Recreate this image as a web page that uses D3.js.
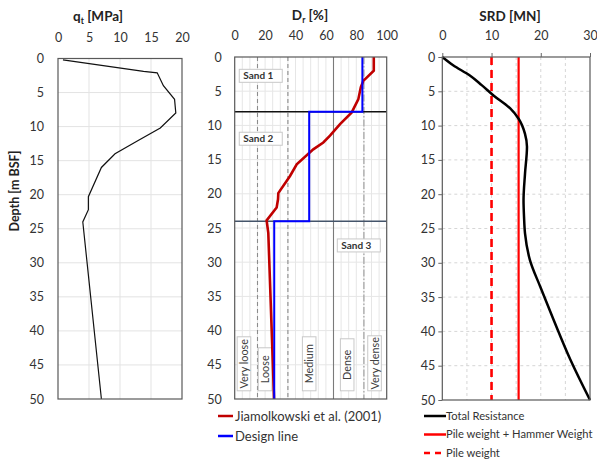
<!DOCTYPE html>
<html>
<head>
<meta charset="utf-8">
<script src="https://cdn.jsdelivr.net/npm/d3@7"></script>
<style>
  body { margin: 0; background: #fff; }
  text { font-family: Lato, "Open Sans", sans-serif; }
</style>
</head>
<body>
<div id="chart"></div>
<script>
// depth axis shared by the three panels
const depthTicks = [0, 5, 10, 15, 20, 25, 30, 35, 40, 45, 50];
const qtTicks = [0, 5, 10, 15, 20];
const drTicks = [0, 20, 40, 60, 80, 100];
const srdTicks = [0, 10, 20, 30];

// cone resistance qt [MPa]
const qtDepth = [0.2, 1.9, 2.1, 4.0, 6.0, 8.0, 10.2, 12.0, 14.0, 16.0, 20.3, 22.2, 24.0, 50];
const qtValue = [0.8, 13.8, 16.0, 17.0, 18.8, 19.0, 16.5, 13.0, 9.2, 7.0, 4.9, 4.9, 4.0, 7.0];

// relative density Dr [%]
const jamDepth = [0, 2, 3.5, 4.4, 6.2, 8.1, 9.8, 11.5, 12.5, 13.5, 15.7, 17.4, 19.9, 20.8, 22, 23.9, 25.7, 50];
const jamDr = [91.5, 91.5, 84.6, 83, 81.3, 77, 69.3, 62.7, 58.3, 51.7, 40.8, 36.4, 28.7, 28.5, 27.6, 21, 22.1, 25.9];
const designDepth = [0, 8, 8, 24, 24, 50];
const designDr = [84, 84, 49, 49, 26, 26];
const layerBounds = [8, 24];
const densityBounds = [15, 35, 65, 85];
const densityNames = ["Very loose", "Loose", "Medium", "Dense", "Very dense"];
const sandNames = ["Sand 1", "Sand 2", "Sand 3"];

// soil resistance to driving [MN]
const srdDepth = [0, 1.2, 2.7, 4.1, 5.6, 7.5, 9.0, 11.2, 13.1, 17, 20.9, 23.3, 25.7, 29.6, 33.5, 38.3, 44.1, 50];
const srdTotal = [0, 2.2, 5.6, 8, 10.4, 13.8, 15.5, 16.8, 17.2, 16.8, 16.5, 16.6, 16.8, 17.8, 19.9, 22.6, 26, 30];
const pileWeight = 10;
const pileHammerWeight = 15.5;

const svg = d3.select("#chart").append("svg")
  .attr("width", 597)
  .attr("height", 461);

const textColor = "#333";
const fontFam = "Lato, Open Sans, sans-serif";

function drawAxes(x, y, xTicks, opts) {
  const top = svg.append("g")
    .attr("transform", `translate(0,${y.range()[0]})`)
    .call(d3.axisTop(x).tickValues(xTicks).tickSize(opts.tick).tickPadding(opts.padTop))
    .attr("font-size", 12.5).attr("font-family", fontFam).attr("color", textColor);
  top.select(".domain").remove();
  top.selectAll("line").attr("stroke", "#666");
  const left = svg.append("g")
    .attr("transform", `translate(${x.range()[0]},0)`)
    .call(d3.axisLeft(y).tickValues(depthTicks).tickSize(opts.tick).tickPadding(opts.padLeft))
    .attr("font-size", 12.5).attr("font-family", fontFam).attr("color", textColor);
  left.select(".domain").remove();
  left.selectAll("line").attr("stroke", "#666");
}

function grid(x, y, xVals, yVals, stroke, dash) {
  const g = svg.append("g");
  g.selectAll(".gx").data(xVals).join("line")
    .attr("x1", d => x(d)).attr("x2", d => x(d))
    .attr("y1", y.range()[0]).attr("y2", y.range()[1])
    .attr("stroke", stroke).attr("stroke-dasharray", dash);
  g.selectAll(".gy").data(yVals).join("line")
    .attr("x1", x.range()[0]).attr("x2", x.range()[1])
    .attr("y1", d => y(d)).attr("y2", d => y(d))
    .attr("stroke", stroke).attr("stroke-dasharray", dash);
}

function border(x, y) {
  svg.append("rect")
    .attr("x", x.range()[0]).attr("y", y.range()[0])
    .attr("width", x.range()[1] - x.range()[0])
    .attr("height", y.range()[1] - y.range()[0])
    .attr("fill", "none").attr("stroke", "#595959").attr("stroke-width", 1.2);
}

function title(cx, cy, main, sub, rest) {
  const t = svg.append("text").attr("x", cx).attr("y", cy)
    .attr("text-anchor", "middle").attr("font-size", 13.5).attr("font-weight", "bold").attr("fill", "#222");
  t.append("tspan").text(main);
  t.append("tspan").attr("font-size", 8.5).attr("dy", 3).text(sub);
  t.append("tspan").attr("dy", -3).text(rest);
}

// ---------- panel 1: qt ----------
const x1 = d3.scaleLinear().domain([0, 20]).range([58, 182]);
const y1 = d3.scaleLinear().domain([0, 50]).range([58.5, 399]);
grid(x1, y1, qtTicks.slice(1, -1), depthTicks.slice(1, -1), "#e3e3e3", null);
svg.append("path")
  .datum(qtDepth.map((d, i) => [qtValue[i], d]))
  .attr("fill", "none").attr("stroke", "#111").attr("stroke-width", 1.2)
  .attr("d", d3.line().x(d => x1(d[0])).y(d => y1(d[1])));
border(x1, y1);
drawAxes(x1, y1, qtTicks, { tick: 0, padTop: 17, padLeft: 14 });
title(98, 21, "q", "t", " [MPa]");

svg.append("text")
  .attr("transform", "translate(19,191) rotate(-90)")
  .attr("text-anchor", "middle").attr("font-size", 12.5).attr("font-weight", "bold").attr("fill", "#222")
  .text("Depth [m BSF]");

// ---------- panel 2: Dr ----------
const x2 = d3.scaleLinear().domain([0, 100]).range([234.7, 386.7]);
const y2 = d3.scaleLinear().domain([0, 50]).range([57, 399]);
grid(x2, y2, d3.range(5, 100, 5), depthTicks.slice(1, -1), "#e6e6e6", null);

const boundStyle = [
  { stroke: "#8c8c8c", dash: "4,3" },
  { stroke: "#8c8c8c", dash: "4,3" },
  { stroke: "#7a7a7a", dash: null },
  { stroke: "#9a9a9a", dash: "7,2,1.5,2" }
];
svg.append("g").selectAll("line").data(densityBounds).join("line")
  .attr("x1", d => x2(d)).attr("x2", d => x2(d))
  .attr("y1", y2(0)).attr("y2", y2(50))
  .attr("stroke", (d, i) => boundStyle[i].stroke)
  .attr("stroke-dasharray", (d, i) => boundStyle[i].dash)
  .attr("stroke-width", 1.1);

svg.append("g").selectAll("line").data(layerBounds).join("line")
  .attr("x1", x2(0)).attr("x2", x2(100))
  .attr("y1", d => y2(d)).attr("y2", d => y2(d))
  .attr("stroke", (d, i) => i === 0 ? "#111" : "#44546a")
  .attr("stroke-width", 1.5);

// sand labels (anchored in data units: Dr left edge, top depth)
const sandAnchor = [[3, 1.8], [3, 11], [67.5, 26.6]];
const sandG = svg.append("g").selectAll("g").data(sandNames).join("g")
  .attr("transform", (d, i) => `translate(${x2(sandAnchor[i][0])},${y2(sandAnchor[i][1])})`);
sandG.append("rect").attr("width", 43).attr("height", 13)
  .attr("fill", "#fff").attr("stroke", "#c8c8c8");
sandG.append("text").attr("x", 4).attr("y", 10)
  .attr("font-size", 10).attr("font-weight", "bold").attr("fill", "#333")
  .text(d => d);

// density class labels, rotated text centred in a white box
const densityCenter = [6.1, 20, 49, 74, 92];
const densityBoxH = [54, 43, 54, 52, 55];
const denG = svg.append("g").selectAll("g").data(densityNames).join("g")
  .attr("transform", (d, i) => `translate(${x2(densityCenter[i])},${y2(48.8)})`);
denG.append("rect")
  .attr("x", -6.8).attr("width", 13.6)
  .attr("y", (d, i) => -densityBoxH[i]).attr("height", (d, i) => densityBoxH[i])
  .attr("fill", "#fff").attr("stroke", "#c8c8c8");
denG.append("text")
  .attr("transform", (d, i) => `translate(4,${-densityBoxH[i] / 2}) rotate(-90)`)
  .attr("text-anchor", "middle")
  .attr("font-size", 10.8).attr("fill", "#404040")
  .text(d => d);

svg.append("path")
  .datum(jamDepth.map((d, i) => [jamDr[i], d]))
  .attr("fill", "none").attr("stroke", "#c00000").attr("stroke-width", 2.6)
  .attr("d", d3.line().x(d => x2(d[0])).y(d => y2(d[1])));
svg.append("path")
  .datum(designDepth.map((d, i) => [designDr[i], d]))
  .attr("fill", "none").attr("stroke", "#0000ff").attr("stroke-width", 2)
  .attr("d", d3.line().x(d => x2(d[0])).y(d => y2(d[1])));
border(x2, y2);
drawAxes(x2, y2, drTicks, { tick: 0, padTop: 17, padLeft: 13 });
title(310, 20, "D", "r", " [%]");

// legend panel 2
const leg2 = [["Jiamolkowski et al. (2001)", "#c00000"], ["Design line", "#0000ff"]];
const l2 = svg.append("g").selectAll("g").data(leg2).join("g")
  .attr("transform", (d, i) => `translate(218,${416 + i * 20})`);
l2.append("line").attr("x1", 0).attr("x2", 15).attr("stroke", d => d[1]).attr("stroke-width", 2.5);
l2.append("text").attr("x", 17).attr("dy", "0.35em").attr("font-size", 13).attr("fill", "#333").text(d => d[0]);

// ---------- panel 3: SRD ----------
const x3 = d3.scaleLinear().domain([0, 30]).range([442.3, 590]);
const y3 = d3.scaleLinear().domain([0, 50]).range([57, 400]);
grid(x3, y3, [5, 10, 15, 20, 25], depthTicks.slice(1, -1), "#d6d6d6", "3,3");
svg.append("line")
  .attr("x1", x3(pileWeight)).attr("x2", x3(pileWeight))
  .attr("y1", y3(0)).attr("y2", y3(50))
  .attr("stroke", "#ff0000").attr("stroke-width", 2.6).attr("stroke-dasharray", "8,5");
svg.append("line")
  .attr("x1", x3(pileHammerWeight)).attr("x2", x3(pileHammerWeight))
  .attr("y1", y3(0)).attr("y2", y3(50))
  .attr("stroke", "#ff0000").attr("stroke-width", 2.2);
svg.append("path")
  .datum(srdDepth.map((d, i) => [srdTotal[i], d]))
  .attr("fill", "none").attr("stroke", "#000").attr("stroke-width", 2.5)
  .attr("d", d3.line().curve(d3.curveMonotoneY).x(d => x3(d[0])).y(d => y3(d[1])));
border(x3, y3);
drawAxes(x3, y3, srdTicks, { tick: 4, padTop: 13, padLeft: 3 });
svg.append("text").attr("x", 510).attr("y", 21)
  .attr("text-anchor", "middle").attr("font-size", 13.5).attr("font-weight", "bold").attr("fill", "#222")
  .text("SRD [MN]");

// legend panel 3
const leg3 = [["Total Resistance", "#000", null], ["Pile weight + Hammer Weight", "#ff0000", null], ["Pile weight", "#ff0000", "6,5"]];
const l3 = svg.append("g").selectAll("g").data(leg3).join("g")
  .attr("transform", (d, i) => `translate(424,${416 + i * 18.5})`);
l3.append("line").attr("x1", 0).attr("x2", 22).attr("stroke", d => d[1]).attr("stroke-width", 2.5)
  .attr("stroke-dasharray", d => d[2]);
l3.append("text").attr("x", 22).attr("dy", "0.35em").attr("font-size", 11.2).attr("fill", "#333").text(d => d[0]);
</script>
</body>
</html>
